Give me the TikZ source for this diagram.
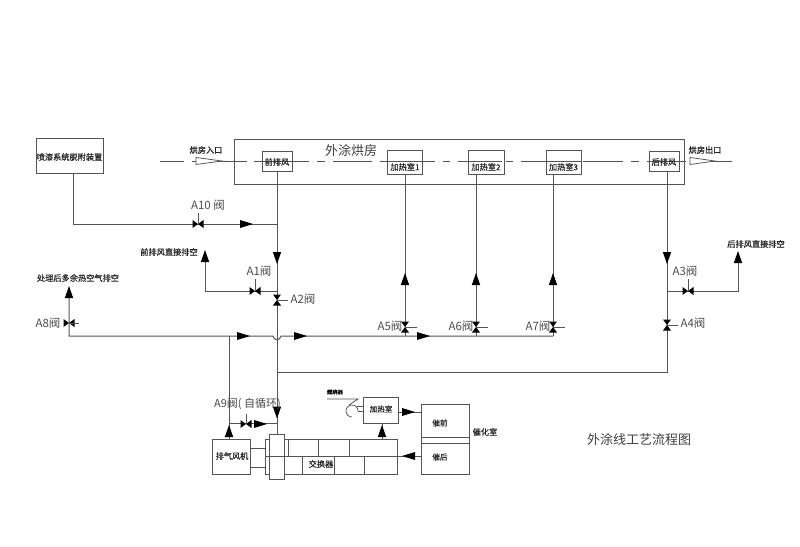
\documentclass[tikz,border=0pt]{standalone}
\usepackage{fontspec}
\setmainfont{Noto Sans CJK SC}
\newfontfamily\boldish[FakeBold=0.6]{Noto Sans CJK SC}
\definecolor{ink}{gray}{0.33}
\tikzset{
  ln/.style={draw=ink,line width=1pt},
  thin line/.style={draw=ink,line width=0.75pt},
  box/.style={draw=ink,line width=0.95pt,rectangle,inner sep=0pt,fill=white},
  openbox/.style={draw=ink,line width=0.95pt,rectangle,inner sep=0pt},
  small/.style={inner sep=0pt,text=black!85,font=\boldish\fontsize{8.2}{9}\selectfont},
  tiny/.style={inner sep=0pt,text=black!85,font=\boldish\fontsize{7.6}{9}\selectfont},
  vlabel/.style={inner sep=0pt,text=black!70,font=\fontsize{11.5}{12}\selectfont},
  tipr/.pic={\fill[black] (-6.5,-4)--(6.5,0)--(-6.5,4)--cycle;},
  tipl/.pic={\fill[black] (6.5,-4)--(-6.5,0)--(6.5,4)--cycle;},
  tipu/.pic={\fill[black] (-4.2,6)--(0,-6)--(4.2,6)--cycle;},
  tipd/.pic={\fill[black] (-4.2,-6)--(0,6)--(4.2,-6)--cycle;},
  valveh/.pic={\fill[black] (-5.5,-4)--(5.5,4)--(5.5,-4)--(-5.5,4)--cycle;},
  valvev/.pic={\fill[black] (-4,-5.5)--(4,5.5)--(-4,5.5)--(4,-5.5)--cycle;},
}
\begin{document}
\begin{tikzpicture}[x=1pt,y=-1pt]
\useasboundingbox[fill=white] (0,0) rectangle (800,546);
% dashed centre line
\foreach \a/\b in {160/184,192/247,254/309,317/325,333/372,380/435,443/450,458/502,506/513,521/582,583/623,631/639,647/686,692/732}
  \draw[thin line] (\a,161) -- (\b,161);
% oven and boxes
\node[openbox,minimum width=450pt,minimum height=45pt] (oven) at (459,161.5) {};
\node[box,minimum width=67pt,minimum height=35pt] (spray) at (69.5,155.5) {};
\node[small] (spraytxt) at (69.5,157) {喷漆系统脱附装置};
\node[openbox,minimum width=30pt,minimum height=20pt] (front) at (277,161) {};
\node[small] (fronttxt) at (277,162) {前排风};
\node[openbox,minimum width=35pt,minimum height=24pt] (heat1) at (405,162) {};
\node[small] (heat1txt) at (405,167) {加热室1};
\node[openbox,minimum width=36pt,minimum height=24pt] (heat2) at (486,162) {};
\node[small] (heat2txt) at (486,167) {加热室2};
\node[openbox,minimum width=35pt,minimum height=24pt] (heat3) at (563.5,162) {};
\node[small] (heat3txt) at (563.5,167) {加热室3};
\node[openbox,minimum width=30pt,minimum height=20pt] (rear) at (664,161) {};
\node[small] (reartxt) at (664,162) {后排风};
\node[inner sep=0pt,text=black!75,font=\fontsize{13}{15}\selectfont] (ovenname) at (351,151) {外涂烘房};
\node[small] (inname) at (206,150) {烘房入口};
\node[small] (outname) at (705,150) {烘房出口};
% funnels
\coordinate (fin) at (196,161);
\coordinate (fout) at (690,161);
\draw[thin line,fill=white] (fin) ++(0,-3.5) -- ++(26,3.5) -- ++(-26,3.5) -- cycle;
\draw[thin line,fill=white] (fout) ++(0,-3.5) -- ++(25,3.5) -- ++(-25,3.5) -- cycle;
% coordinates
\coordinate (sprayout) at (73,173);
\coordinate (sprayturn) at (73,224);
\coordinate (j10) at (277,224);
\coordinate (frontout) at (277,171);
\coordinate (cyltop) at (277,434);
\coordinate (ja1) at (277,291);
\coordinate (a1turn) at (205,291);
\coordinate (a1top) at (205,254);
\coordinate (a8top) at (69,291);
\coordinate (a8turn) at (69,336);
\coordinate (hump1) at (273,336);
\coordinate (hump2) at (281,336);
\coordinate (mainend) at (553,336);
\coordinate (m5) at (405,336);
\coordinate (m6) at (476,336);
\coordinate (m9) at (229,336);
\coordinate (h1out) at (405,174);
\coordinate (h2out) at (476,174);
\coordinate (h3out) at (553,174);
\coordinate (rearout) at (667,171);
\coordinate (rturn) at (667,372);
\coordinate (lturn) at (277,372);
\coordinate (ja3) at (667,291);
\coordinate (a3turn) at (738,291);
\coordinate (a3top) at (738,255);
\coordinate (a9left) at (229,423);
\coordinate (a9top) at (277,423);
\coordinate (fantop) at (229,439);
% piping
\draw[ln] (sprayout) -- (sprayturn) -- (j10);
\draw[ln] (frontout) -- (cyltop);
\draw[ln] (ja1) -- (a1turn) -- (a1top);
\draw[ln] (a8top) -- (a8turn) -- (hump1) .. controls (274,341) and (280,341) .. (hump2) -- (mainend);
\draw[ln] (h1out) -- (m5);
\draw[ln] (h2out) -- (m6);
\draw[ln] (h3out) -- (mainend);
\draw[ln] (rearout) -- (rturn) -- (lturn);
\draw[ln] (ja3) -- (a3turn) -- (a3top);
\draw[ln] (m9) -- (fantop);
\draw[ln] (a9left) -- (a9top);
% arrows
\foreach \p in {(246.5,224),(243.5,336),(300.5,336),(423.5,336),(260.5,424)} \path \p pic {tipr};
\foreach \p in {(277,258),(667,258),(277,412.5)} \path \p pic {tipd};
\foreach \p in {(205,256),(69,292),(738,257),(405,279),(476,279),(553,279),(229,431)} \path \p pic {tipu};
% valves
\foreach \p in {(198,224),(255,291),(688,291),(246,424),(69,323)} \path \p pic {valveh};
\foreach \p in {(277,300),(667,325),(405,327),(476,327),(553,327)} \path \p pic {valvev};
% valve stems
\foreach \a/\b/\c in {198/213/224,255/279/291,688/279/291,246/414/424}
  \draw[thin line] (\a,\b) -- (\a,\c);
\foreach \a/\b/\c in {277/288/300,69/79/323,667/678/325,405/417/327,476/488/327,553/565/327}
  \draw[thin line] (\a,\c) -- (\b,\c);
% valve labels
\node[vlabel] (la10) at (208,205) {A10 阀};
\node[vlabel] (la1) at (259,271) {A1阀};
\node[vlabel] (la2) at (303,299) {A2阀};
\node[vlabel] (la3) at (685,271) {A3阀};
\node[vlabel] (la4) at (693,323) {A4阀};
\node[vlabel] (la5) at (390,326) {A5阀};
\node[vlabel] (la6) at (461,326) {A6阀};
\node[vlabel] (la7) at (538,326) {A7阀};
\node[vlabel] (la8) at (48,323) {A8阀};
\node[vlabel,font=\fontsize{11}{12}\selectfont] (la9) at (247.5,404) {A9阀( 自循环)};
% exhaust labels
\node[small] (exfront) at (169,252) {前排风直接排空};
\node[small] (exrest) at (78,278) {处理后多余热空气排空};
\node[small] (exrear) at (756,244) {后排风直接排空};
% lower equipment
\coordinate (fan1a) at (250,448);
\coordinate (fan1b) at (265,448);
\coordinate (fan2a) at (250,467);
\coordinate (fan2b) at (265,467);
\node[box,minimum width=38pt,minimum height=35pt] (fan) at (231,456.5) {};
\node[small] (fantxt) at (232,456) {排气风机};
\draw[thin line] (fan1a) -- (fan1b);
\draw[thin line] (fan2a) -- (fan2b);
\node[box,minimum width=4pt,minimum height=35pt] (collar) at (267,456.5) {};
\node[box,minimum width=113pt,minimum height=35pt] (hx) at (340.5,456.5) {};
\node[box,minimum width=15pt,minimum height=45pt] (cyl) at (276.5,456.5) {};
\coordinate (hxl) at (265,456);
\coordinate (cat2) at (421,456);
\draw[thin line] (hxl) -- (cat2);
\foreach \a in {288,318,349} \draw[thin line] (\a,439) -- (\a,456);
\foreach \a in {302,334,364} \draw[thin line] (\a,456) -- (\a,474);
\node[small] (hxtxt) at (321,464) {交换器};
\path (408.5,456) pic {tipl};
% heating chamber
\node[box,minimum width=35pt,minimum height=26pt] (hc) at (380.5,410) {};
\node[tiny] (hctxt) at (381,409) {加热室};
\coordinate (hxup) at (382,439);
\draw[ln] (hxup) -- (hc.south -| hxup);
\path (382,431) pic {tipu};
\node[box,minimum width=48pt,minimum height=70pt] (cat) at (445,439) {};
\draw[ln] (hc.east |- 0,412) -- (cat.west |- 0,412);
\path (408.5,412) pic {tipr};
\coordinate (d1l) at (421,437);
\coordinate (d1r) at (469,437);
\coordinate (d2l) at (421,443);
\coordinate (d2r) at (469,443);
\draw[ln] (d1l) -- (d1r);
\draw[ln] (d2l) -- (d2r);
\node[tiny] (cq) at (440,423) {催前};
\node[tiny] (ch) at (440,457) {催后};
\node[small] (cname) at (485,432) {催化室};
% burner
\node[inner sep=0pt,text=black,font=\boldish\fontsize{5.3}{6}\selectfont] (burnertxt) at (335,392) {燃烧器};
\coordinate (b1) at (327,399);
\coordinate (b2) at (358,399);
\coordinate (b3) at (357,406);
\coordinate (b4) at (363,406);
\coordinate (b5) at (358,411);
\coordinate (b6) at (363,411);
\draw[thin line] (b1) -- (b2) -- (349,405);
\draw[thin line] (b3) -- (b4);
\draw[thin line] (b5) -- (b6);
\draw[thin line] (358,411) arc[start angle=0,end angle=-270,radius=6];
% title
\node[inner sep=0pt,text=black!75,font=\fontsize{13}{14}\selectfont] (title) at (639,440) {外涂线工艺流程图};
\end{tikzpicture}
\end{document}
